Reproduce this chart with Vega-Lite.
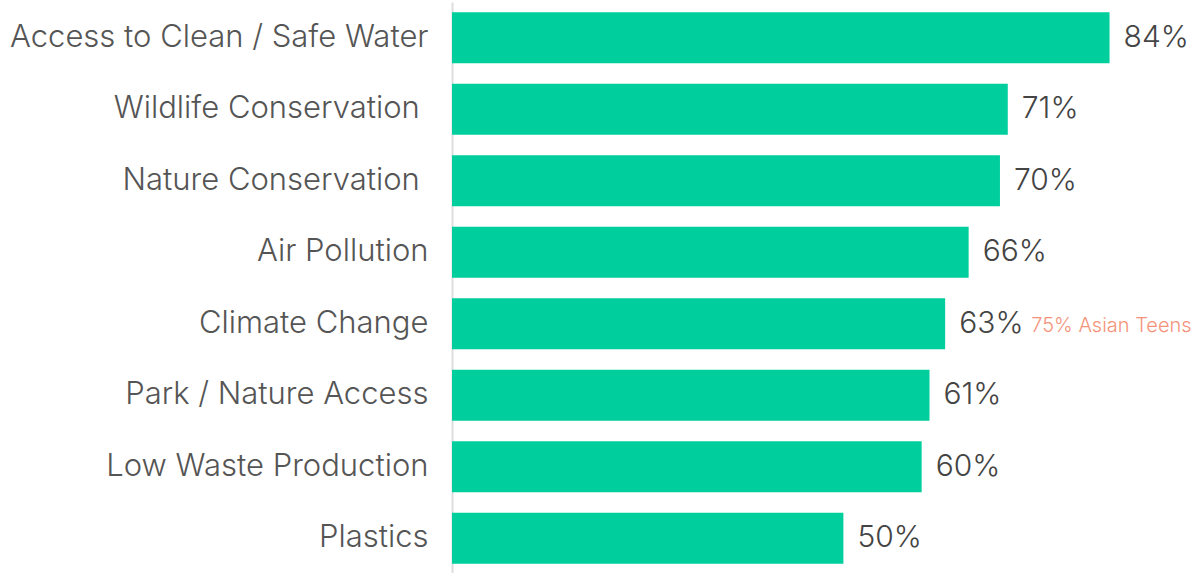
{
  "$schema": "https://vega.github.io/schema/vega-lite/v6.json",
  "autosize": {"type": "none"},
  "padding": {"left": 452, "top": 2, "right": 0, "bottom": 0},
  "width": 746,
  "height": 572,
  "background": "white",
  "config": {"view": {"stroke": null}},
  "data": {
    "values": [
      {"issue": "Access to Clean / Safe Water", "pct": 84, "label": "84%", "note": ""},
      {"issue": "Wildlife Conservation\u00a0\u200b", "pct": 71, "label": "71%", "note": ""},
      {"issue": "Nature Conservation\u00a0\u200b", "pct": 70, "label": "70%", "note": ""},
      {"issue": "Air Pollution", "pct": 66, "label": "66%", "note": ""},
      {"issue": "Climate Change", "pct": 63, "label": "63%", "note": "75% Asian Teens"},
      {"issue": "Park / Nature Access", "pct": 61, "label": "61%", "note": ""},
      {"issue": "Low Waste Production", "pct": 60, "label": "60%", "note": ""},
      {"issue": "Plastics", "pct": 50, "label": "50%", "note": ""}
    ]
  },
  "encoding": {
    "y": {
      "field": "issue",
      "type": "nominal",
      "sort": null,
      "scale": {"paddingInner": 0.29, "paddingOuter": 0.145},
      "axis": {
        "title": null,
        "ticks": false,
        "domain": true,
        "domainColor": "#dddddd",
        "domainWidth": 2,
        "labelFont": "Inter",
        "labelFontWeight": 300,
        "labelFontSize": 31,
        "labelColor": "#555555",
        "labelPadding": 24,
        "labelLimit": 460
      }
    },
    "x": {
      "field": "pct",
      "type": "quantitative",
      "scale": {"domain": [0, 95.3], "nice": false},
      "axis": null
    }
  },
  "layer": [
    {"mark": {"type": "bar", "color": "#00CF9D"}},
    {
      "mark": {"type": "text", "align": "left", "baseline": "middle", "dx": 14, "font": "Inter", "fontWeight": 300, "fontSize": 30, "color": "#444444"},
      "encoding": {"text": {"field": "label"}}
    },
    {
      "mark": {"type": "text", "align": "left", "baseline": "middle", "dx": 86, "dy": 2, "font": "Inter", "fontWeight": 300, "fontSize": 20, "color": "#F4937A"},
      "encoding": {"text": {"field": "note"}}
    }
  ]
}
